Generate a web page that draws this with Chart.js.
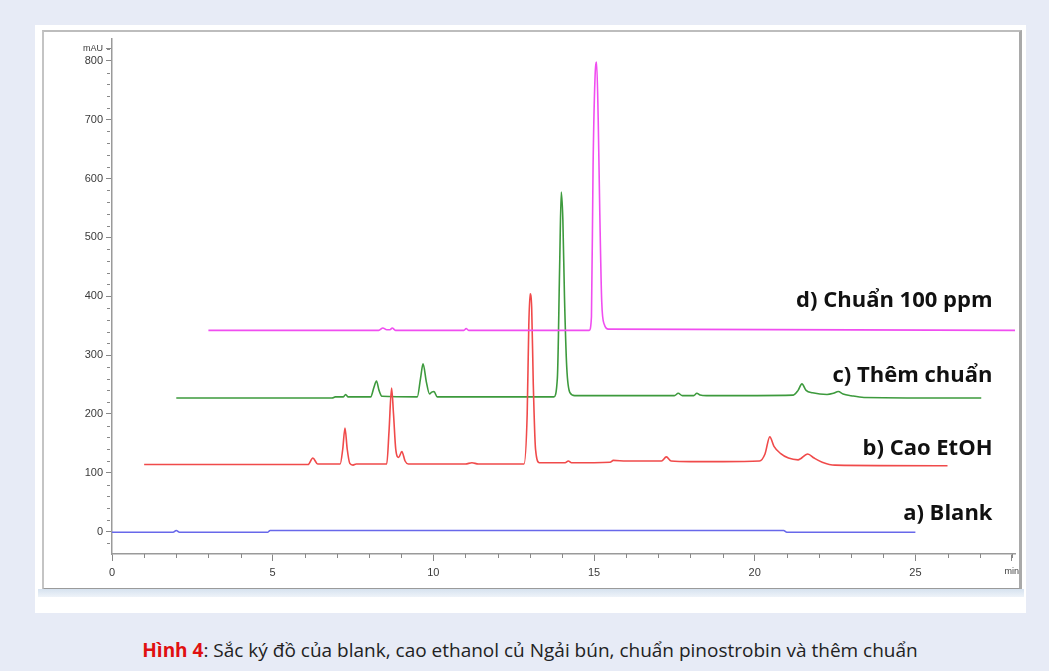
<!DOCTYPE html>
<html>
<head>
<meta charset="utf-8">
<script src="https://cdn.jsdelivr.net/npm/chart.js@4.4.1/dist/chart.umd.min.js"></script>
<style>
    body { margin: 0; background: #e7ebf6; width: 1049px; height: 671px; position: relative; overflow: hidden; }
    .panel { position: absolute; left: 35px; top: 25px; width: 991px; height: 588px; background: #fff; }
    .frame { position: absolute; left: 42px; top: 30px; width: 975px; height: 556px;
             border-left: 2px solid #c4c4c4; border-top: 2px solid #bdbdbd;
             border-right: 3px solid #a9a9a9; border-bottom: 2px solid #9a9a9a; }
    .strip { position: absolute; left: 38px; top: 589px; width: 986px; height: 8px;
             background: linear-gradient(#d6e2ef, #eef3f9); }
    #chart { position: absolute; left: 40px; top: 30px; }
    .caption { position: absolute; left: 0; width: 1060px; top: 637px; text-align: center;
               font-family: "Open Sans", sans-serif; font-size: 19px; color: #222; letter-spacing: 0; }
    .caption b { color: #e01010; }
</style>
</head>
<body>
<div class="panel"></div>
<div class="frame"></div>
<div class="strip"></div>
<canvas id="chart" width="1000" height="560"></canvas>
<div class="caption"><b>Hình 4</b>: Sắc ký đồ của blank, cao ethanol củ Ngải bún, chuẩn pinostrobin và thêm chuẩn</div>

<script>
'use strict';

// a) Blank
const blankTime   = [0, 1.9, 2.0, 2.1, 4.85, 4.92, 20.9, 21.0, 25.0];
const blankSignal = [-1, -1, 2, -1, -1, 2, 2, -1, -1];

// b) Cao EtOH
const extractTime = [1.0, 6.1, 6.25, 6.4, 7.1, 7.18, 7.25, 7.32, 7.4, 7.5, 7.6,
    8.55, 8.62, 8.7, 8.76, 8.83, 8.92, 9.02, 9.12, 9.22,
    11.0, 11.2, 11.4, 12.82, 12.92, 12.97, 13.01, 13.06, 13.11, 13.18, 13.3,
    14.1, 14.2, 14.3, 15.5, 15.6, 16.0, 17.1, 17.25, 17.4, 18.0, 19.0,
    20.15, 20.32, 20.47, 20.6, 20.8, 21.05, 21.35, 21.65, 21.85, 22.1, 22.5, 26.0];
const extractSignal = [114, 114, 125, 115, 115, 140, 176, 140, 116, 113, 115,
    115, 170, 244, 200, 140, 126, 136, 120, 115,
    115, 117, 115, 115, 200, 350, 404, 380, 250, 140, 117,
    117, 120, 117, 118, 121, 120, 120, 127, 120, 119, 119,
    120, 132, 161, 145, 133, 125, 122, 132, 125, 118, 113, 112];

// c) Them chuan
const spikedTime = [2.0, 6.85, 6.95, 7.2, 7.27, 7.35, 8.05, 8.15, 8.23, 8.31, 8.4,
    9.5, 9.6, 9.68, 9.78, 9.88, 9.95, 10.02, 10.12, 13.75, 13.86, 13.93, 13.98,
    14.03, 14.08, 14.15, 14.25, 14.4, 17.5, 17.62, 17.75, 18.1, 18.2, 18.3, 18.5,
    21.2, 21.35, 21.47, 21.6, 21.8, 22.25, 22.45, 22.6, 22.75, 23.0, 23.4, 27.05];
const spikedSignal = [227, 227, 229, 229, 233, 229, 229, 245, 256, 240, 230,
    229, 260, 285, 255, 234, 237, 238, 229, 229, 262, 450, 577,
    530, 400, 280, 236, 231, 231, 235, 231, 231, 235, 232, 231,
    232, 240, 251, 240, 236, 233, 235, 238, 234, 231, 228, 227];

// d) Chuan 100 ppm
const standardTime = [3.0, 8.3, 8.43, 8.55, 8.65, 8.72, 8.82, 10.95, 11.02, 11.1,
    14.85, 14.92, 14.97, 15.03, 15.08, 15.13, 15.18, 15.24, 15.32, 15.45, 28.1];
const standardSignal = [342, 342, 346, 343, 343, 346, 342, 342, 345, 342,
    342, 365, 620, 770, 798, 700, 540, 390, 352, 344, 342];

const seriesNames  = ['d) Chuẩn 100 ppm', 'b) Cao EtOH', 'c) Thêm chuẩn', 'a) Blank'];
const seriesColors = ['#f04ef0', '#f04a4a', '#3d9a3d', '#6868ea'];
const labelAt      = [381, 130, 255, 20];   // baseline of each label (mAU)

const xTickValues = [0, 5, 10, 15, 20, 25, 28];
const xTickLabels = ['0', '5', '10', '15', '20', '25', 'min'];
const yTickValues = [0, 100, 200, 300, 400, 500, 600, 700, 800, 820];
const yTickLabels = ['0', '100', '200', '300', '400', '500', '600', '700', '800', 'mAU'];

const toPoints = (times, values) => times.map((t, i) => ({x: t, y: values[i]}))

const traces = [
    toPoints(standardTime, standardSignal),
    toPoints(extractTime, extractSignal),
    toPoints(spikedTime, spikedSignal),
    toPoints(blankTime, blankSignal)
];

// unit labels ("mAU", "min") are a bit smaller than the numbers
const tickFont = (ctx) => {
    const v = ctx.tick ? ctx.tick.value : 0;
    const unit = v === 820 || v === 28;
    return {family: 'Liberation Sans', size: unit ? 9 : 11};
}

// small ticks between the labelled ones + the a)..d) names
const extras = {
    id: 'extras',
    afterDraw(chart) {
        const ctx = chart.ctx;
        const xs = chart.scales.x, ys = chart.scales.y;
        ctx.save();
        ctx.strokeStyle = '#888';
        ctx.lineWidth = 1;
        ctx.beginPath();
        for (let v = -20; v <= 820; v += 20) {
            if (v % 100 === 0) continue;
            const py = Math.round(ys.getPixelForValue(v)) + 0.5;
            ctx.moveTo(xs.left - 5, py);
            ctx.lineTo(xs.left - 2, py);
        }
        for (let m = 1; m <= 28; m++) {
            if (m % 5 === 0) continue;
            const px = Math.round(xs.getPixelForValue(m)) + 0.5;
            ctx.moveTo(px, ys.bottom);
            ctx.lineTo(px, ys.bottom + 4);
        }
        ctx.stroke();

        ctx.fillStyle = '#111';
        ctx.font = 'bold 22px "Open Sans"';
        ctx.textAlign = 'right';
        ctx.textBaseline = 'alphabetic';
        seriesNames.forEach((name, i) => {
            ctx.fillText(name, xs.getPixelForValue(27.4), ys.getPixelForValue(labelAt[i]));
        })
        ctx.restore();
    }
};

new Chart('chart', {
    type: 'line',
    data: {
        datasets: traces.map((pts, i) => ({
            label: seriesNames[i],
            data: pts,
            borderColor: seriesColors[i],
            borderWidth: 1.6,
            pointRadius: 0,
            cubicInterpolationMode: 'monotone',
            fill: false
        }))
    },
    options: {
        responsive: false,
        animation: false,
        layout: {padding: {top: 8, right: 25, left: 0, bottom: 0}},
        plugins: {legend: {display: false}, tooltip: {enabled: false}},
        scales: {
            x: {
                type: 'linear',
                min: 0,
                max: 28.1,
                afterBuildTicks: (scale) => { scale.ticks = xTickValues.map(v => ({value: v})) },
                afterFit: (scale) => { scale.height = 36 },
                ticks: {
                    autoSkip: false,
                    maxRotation: 0,
                    padding: 5,
                    color: '#3a3a3a',
                    font: tickFont,
                    callback: (value, index) => xTickLabels[index]
                },
                grid: {drawOnChartArea: false, tickLength: 7, tickColor: '#888'},
                border: {color: '#9a9a9a', width: 1.5}
            },
            y: {
                type: 'linear',
                min: -38,
                max: 838,
                afterBuildTicks: (scale) => { scale.ticks = yTickValues.map(v => ({value: v})) },
                afterFit: (scale) => { scale.width = 72 },
                ticks: {
                    autoSkip: false,
                    padding: 3,
                    color: '#3a3a3a',
                    font: tickFont,
                    callback: (value, index) => yTickLabels[index]
                },
                grid: {drawOnChartArea: false, tickLength: 6, tickColor: '#888'},
                border: {color: '#9a9a9a', width: 1.5}
            }
        }
    },
    plugins: [extras]
});
</script>
</body>
</html>
